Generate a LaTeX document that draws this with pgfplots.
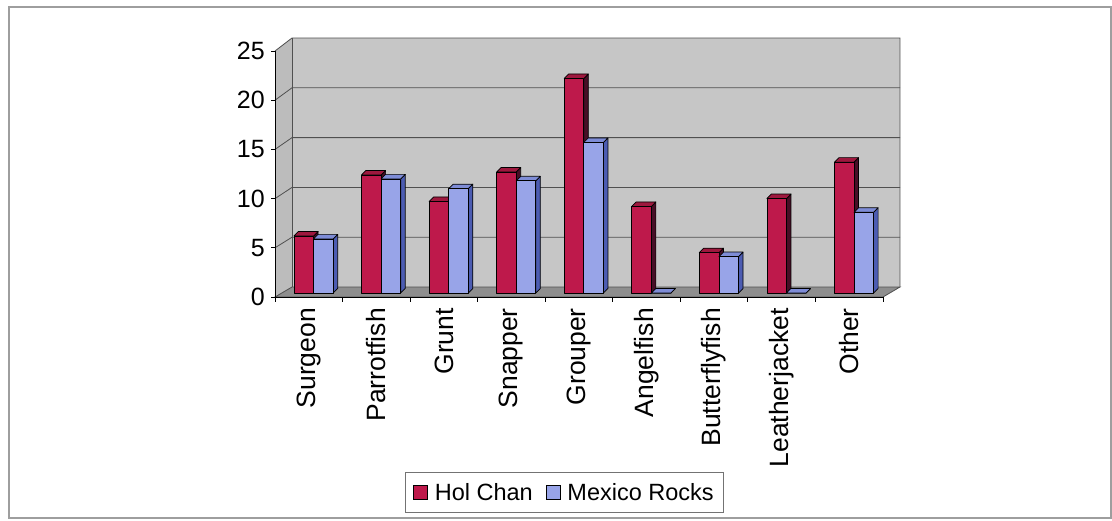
\documentclass[border=0pt]{standalone}
\usepackage{pgfplots}
\pgfplotsset{compat=1.18}
\usepackage{pgfplotstable}
\usepackage{fontspec}
\setmainfont{Liberation Sans}

\definecolor{hcfront}{RGB}{190,25,75}
\definecolor{hcside}{RGB}{72,14,38}
\definecolor{hctop}{RGB}{158,24,62}
\definecolor{mrfront}{RGB}{152,164,232}
\definecolor{mrside}{RGB}{76,92,178}
\definecolor{mrtop}{RGB}{126,140,214}
\definecolor{wall}{RGB}{198,198,198}
\definecolor{sidewall}{RGB}{188,188,188}
\definecolor{floorgray}{RGB}{142,142,142}
\definecolor{gridgray}{RGB}{80,80,80}

% counts per fish family at the two reef sites
\pgfplotstableread{
x hol mex
0 5.8 5.5
1 12.0 11.6
2 9.3 10.6
3 12.3 11.4
4 21.8 15.3
5 8.8 0
6 4.1 3.7
7 9.6 0
8 13.3 8.2
}\fishdata

% column geometry in pt
\def\yscalept{9.84}% pt per unit on the value axis
\def\bw{19.6}%       column width
\def\dx{4.8}\def\dy{4}%   depth position of the columns
\def\ddx{4.5}\def\ddy{4.5}% column depth

% 3D column drawn from the data point (top of column, front plane)
% #1 mark name, #2 x offset of front-left corner, #3 front, #4 side, #5 top
\newcommand\declarecolumn[5]{%
 \pgfdeclareplotmark{#1}{%
  \pgfmathsetmacro\colh{\barv*\yscalept}%
  \pgfmathsetmacro\xl{#2+\dx}%
  \pgfmathsetmacro\xr{\xl+\bw}%
  \pgfmathsetmacro\xrr{\xr+\ddx}%
  \pgfmathsetmacro\xlr{\xl+\ddx}%
  \pgfmathsetmacro\yt{\dy}%
  \pgfmathsetmacro\ytt{\dy+\ddy}%
  \pgfmathsetmacro\yb{\dy-\colh}%
  \pgfmathsetmacro\ybb{\yb+\ddy}%
  \pgfsetlinewidth{0.7pt}\pgfsetstrokecolor{black}\pgfsetroundjoin
  % side face
  \pgfpathmoveto{\pgfqpoint{\xr pt}{\yb pt}}%
  \pgfpathlineto{\pgfqpoint{\xrr pt}{\ybb pt}}%
  \pgfpathlineto{\pgfqpoint{\xrr pt}{\ytt pt}}%
  \pgfpathlineto{\pgfqpoint{\xr pt}{\yt pt}}%
  \pgfpathclose
  \pgfsetfillcolor{#4}\pgfusepath{fill,stroke}%
  % top face
  \pgfpathmoveto{\pgfqpoint{\xl pt}{\yt pt}}%
  \pgfpathlineto{\pgfqpoint{\xlr pt}{\ytt pt}}%
  \pgfpathlineto{\pgfqpoint{\xrr pt}{\ytt pt}}%
  \pgfpathlineto{\pgfqpoint{\xr pt}{\yt pt}}%
  \pgfpathclose
  \pgfsetfillcolor{#5}\pgfusepath{fill,stroke}%
  % front face
  \pgfpathrectanglecorners{\pgfqpoint{\xl pt}{\yb pt}}{\pgfqpoint{\xr pt}{\yt pt}}%
  \pgfsetfillcolor{#3}\pgfusepath{fill,stroke}%
 }}
\declarecolumn{colhol}{-19.6}{hcfront}{hcside}{hctop}
\declarecolumn{colmex}{0}{mrfront}{mrside}{mrtop}

\begin{document}
\begin{tikzpicture}
\useasboundingbox (0pt,0pt) rectangle (1112pt,520pt);
\draw[black!38, line width=1.2pt] (9pt,2pt) rectangle (1111pt,513pt);
\begin{axis}[
  at={(275pt,223pt)}, anchor=south west,
  scale only axis, width=608pt, height=246pt,
  xmin=-0.5, xmax=8.5, ymin=0, ymax=25,
  clip=false, axis on top,
  axis x line*=bottom, axis y line*=left,
  axis line style={black, line width=0.8pt, -},
  tick align=outside,
  major tick length=4pt,
  ytick={0,5,...,25},
  ytick style={black, line width=0.8pt},
  xtick={0,...,8},
  xtick style={draw=none},
  xticklabels={Surgeon,Parrotfish,Grunt,Snapper,Grouper,Angelfish,Butterflyfish,Leatherjacket,Other},
  /pgf/number format/assume math mode=true,
  x tick label style={rotate=90, anchor=east, inner sep=0pt, font=\fontsize{26.5}{30}\selectfont},
  xticklabel shift=7pt,
  y tick label style={inner sep=0pt, font=\fontsize{25}{29}\selectfont},
  yticklabel shift=6pt,
  legend columns=2,
  legend style={at={(0.476,-0.795)}, anchor=center,
    draw=black!55, line width=0.8pt,
    font=\fontsize{23.5}{26}\selectfont,
    inner xsep=8pt, inner ysep=8.5pt,
    /tikz/every odd column/.append style={column sep=5pt},
    /tikz/every even column/.append style={column sep=11pt}},
]
% back wall
\fill[wall] ([shift={(17pt,10pt)}]axis cs:-0.5,0) -- ([shift={(17pt,13pt)}]axis cs:-0.5,25)
  -- ([shift={(17pt,13pt)}]axis cs:8.5,25) -- ([shift={(17pt,10pt)}]axis cs:8.5,0) -- cycle;
% left wall
\fill[sidewall] (axis cs:-0.5,0) -- (axis cs:-0.5,25) -- ([shift={(17pt,13pt)}]axis cs:-0.5,25)
  -- ([shift={(17pt,10pt)}]axis cs:-0.5,0) -- cycle;
% grid lines on both walls
\pgfplotsinvokeforeach{5,10,15,20}{
  \draw[gridgray, line width=0.8pt] (axis cs:-0.5,#1) -- ([shift={(17pt,10pt+0.12pt*#1)}]axis cs:-0.5,#1)
     -- ([shift={(17pt,10pt+0.12pt*#1)}]axis cs:8.5,#1);
}
\draw[gridgray, line width=0.8pt] (axis cs:-0.5,25) -- ([shift={(17pt,13pt)}]axis cs:-0.5,25)
  -- ([shift={(17pt,13pt)}]axis cs:8.5,25) -- ([shift={(17pt,10pt)}]axis cs:8.5,0);
\draw[gridgray, line width=0.8pt] ([shift={(17pt,13pt)}]axis cs:-0.5,25) -- ([shift={(17pt,10pt)}]axis cs:-0.5,0);
% floor
\filldraw[fill=floorgray, draw=gridgray, line width=0.8pt] (axis cs:-0.5,0) -- ([shift={(17pt,10pt)}]axis cs:-0.5,0)
  -- ([shift={(17pt,10pt)}]axis cs:8.5,0) -- (axis cs:8.5,0) -- cycle;
% category separators below the floor edge
\pgfplotsinvokeforeach{-0.5,0.5,1.5,2.5,3.5,4.5,5.5,6.5,7.5,8.5}{
  \draw[black, line width=0.8pt] (axis cs:#1,0) -- ++(0pt,-5pt);
}

\addplot[only marks, scatter, mark=colhol,
  visualization depends on={y \as \barv},
  legend image code/.code={\draw[black, line width=0.7pt, fill=hcfront] (0pt,-7pt) rectangle (14pt,7pt);}]
  table[x=x, y=hol] {\fishdata};
\addlegendentry{Hol Chan}
\addplot[only marks, scatter, mark=colmex,
  visualization depends on={y \as \barv},
  legend image code/.code={\draw[black, line width=0.7pt, fill=mrfront] (0pt,-7pt) rectangle (14pt,7pt);}]
  table[x=x, y=mex] {\fishdata};
\addlegendentry{Mexico Rocks}
\end{axis}
\end{tikzpicture}
\end{document}
